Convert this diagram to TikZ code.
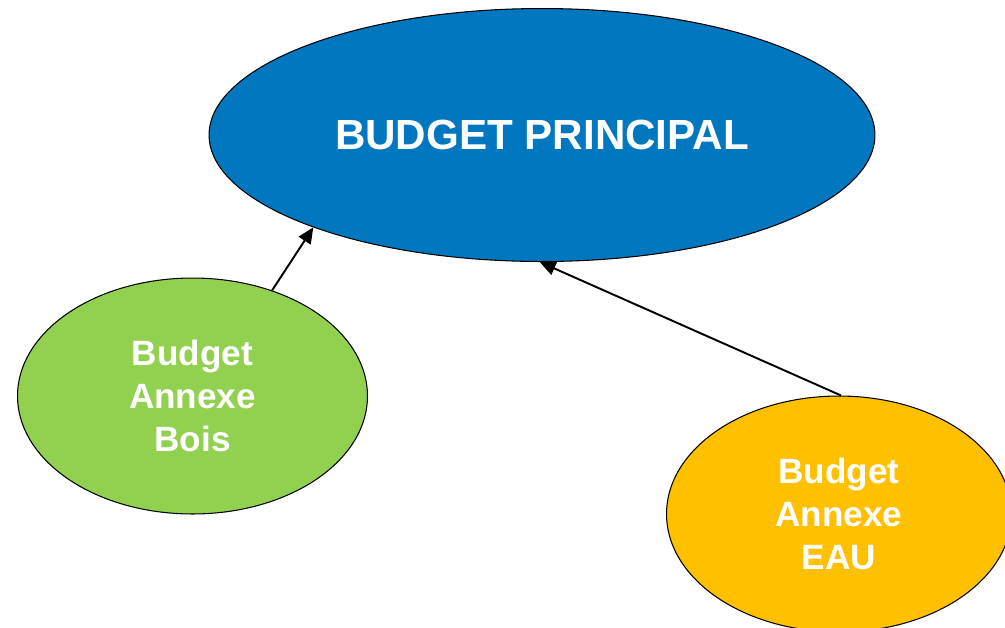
\documentclass[tikz,border=0pt]{standalone}
\usepackage{fontspec}
\setmainfont{Liberation Sans}
\usetikzlibrary{shapes.geometric,arrows.meta}
\definecolor{principalblue}{RGB}{0,119,190}
\definecolor{boisgreen}{RGB}{146,208,80}
\definecolor{eauyellow}{RGB}{255,192,0}
\tikzset{
  budget/.style={ellipse, draw=black, line width=0.6pt, text=white, font=\bfseries, align=center, inner sep=0pt},
  annexe/.style={budget, minimum width=7.0cm, minimum height=4.72cm,
      font=\bfseries\fontsize{20}{24.4}\selectfont},
  link/.style={line width=1.1pt, -{Triangle[length=9pt, width=8pt]}}
}
\begin{document}
\begin{tikzpicture}[x=0.02cm, y=-0.02cm]
    \useasboundingbox (0,0) rectangle (1005,627);
    \clip (0,0) rectangle (1005,627);
    \node[budget, fill=principalblue, minimum width=13.32cm, minimum height=5.06cm,
      font=\bfseries\fontsize{24}{28}\selectfont] (principal) at (542,135) {BUDGET PRINCIPAL};
    \node[annexe, fill=boisgreen] (bois) at (192.5,396) {Budget\\Annexe\\Bois};
    \node[annexe, fill=eauyellow, minimum width=6.9cm] (eau) at (839,514) {Budget\\Annexe\\EAU};
    % arrows
    \draw[link] (bois.53) -- (principal.202.4);
    \draw[link] (eau.89) -- (principal.269.5);
  \end{tikzpicture}
\end{document}
